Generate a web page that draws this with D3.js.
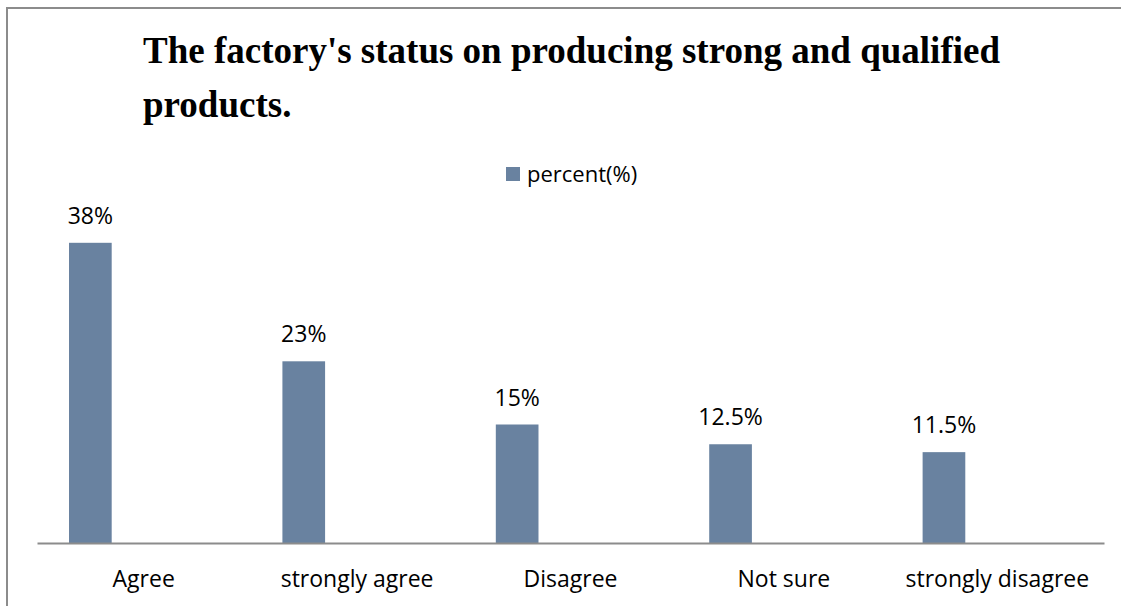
<!DOCTYPE html>
<html>
<head>
<meta charset="utf-8">
<script src="https://cdn.jsdelivr.net/npm/d3@7"></script>
<style>
  html, body { margin: 0; padding: 0; background: #fff; }
  svg { display: block; }
</style>
</head>
<body>
<svg id="chart" width="1121" height="606"></svg>
<script>
// Survey answers and their shares
const categories = ["Agree", "strongly agree", "Disagree", "Not sure", "strongly disagree"];
const percentValues = [38, 23, 15, 12.5, 11.5];
const valueLabels = ["38%", "23%", "15%", "12.5%", "11.5%"];
const seriesName = "percent(%)";
const titleLines = ["The factory's status on producing strong and qualified", "products."];

const W = 1121, H = 606;
const svg = d3.select("#chart");
const barColor = "#6982a0";
const sans = "'Open Sans', 'Noto Sans', sans-serif";

// Frame around the chart area
svg.append("rect")
  .attr("x", 7).attr("y", 8)
  .attr("width", W + 10).attr("height", H + 10)
  .attr("fill", "none").attr("stroke", "#8c8c8c").attr("stroke-width", 2);

// Title, two lines
const title = svg.append("text")
  .attr("font-family", "'Liberation Serif', 'Times New Roman', serif")
  .attr("font-weight", "bold")
  .attr("font-size", 37)
  .attr("fill", "#000");
titleLines.forEach((t, i) => {
  title.append("tspan").attr("x", 143).attr("y", 63 + i * 54).text(t);
});

// Legend
const legend = svg.append("g").attr("transform", "translate(506,167)");
legend.append("rect").attr("width", 14).attr("height", 14).attr("fill", barColor);
legend.append("text")
  .attr("x", 21).attr("y", 15)
  .attr("font-family", sans).attr("font-size", 22).attr("fill", "#000")
  .text(seriesName);

// Scales
const plotLeft = 37, plotRight = 1104, baseY = 543;
const x = d3.scaleBand().domain(categories).range([plotLeft, plotRight]).paddingInner(0).paddingOuter(0);
const y = d3.scaleLinear().domain([0, 40]).range([baseY, baseY - 316]);

const bw = x.bandwidth();
const barOffset = bw * 0.15, barWidth = bw * 0.2;

// Bars
svg.append("g").selectAll("rect")
  .data(categories)
  .join("rect")
  .attr("x", (d) => x(d) + barOffset)
  .attr("width", barWidth)
  .attr("y", (d, i) => y(percentValues[i]))
  .attr("height", (d, i) => baseY - y(percentValues[i]))
  .attr("fill", barColor);

// Value labels above bars
svg.append("g").selectAll("text")
  .data(categories)
  .join("text")
  .attr("x", (d) => x(d) + barOffset + barWidth / 2)
  .attr("y", (d, i) => y(percentValues[i]) - 19)
  .attr("text-anchor", "middle")
  .attr("font-family", sans).attr("font-size", 23).attr("fill", "#000")
  .text((d, i) => valueLabels[i]);

// Category axis
const axis = svg.append("g")
  .attr("transform", `translate(0,${baseY})`)
  .call(d3.axisBottom(x).tickSize(0).tickPadding(0));
axis.select(".domain").attr("stroke", "#8c8c8c").attr("stroke-width", 2);
axis.selectAll(".tick text")
  .attr("dy", 0).attr("y", 44)
  .attr("font-family", sans).attr("font-size", 23).attr("fill", "#000");
</script>
</body>
</html>
